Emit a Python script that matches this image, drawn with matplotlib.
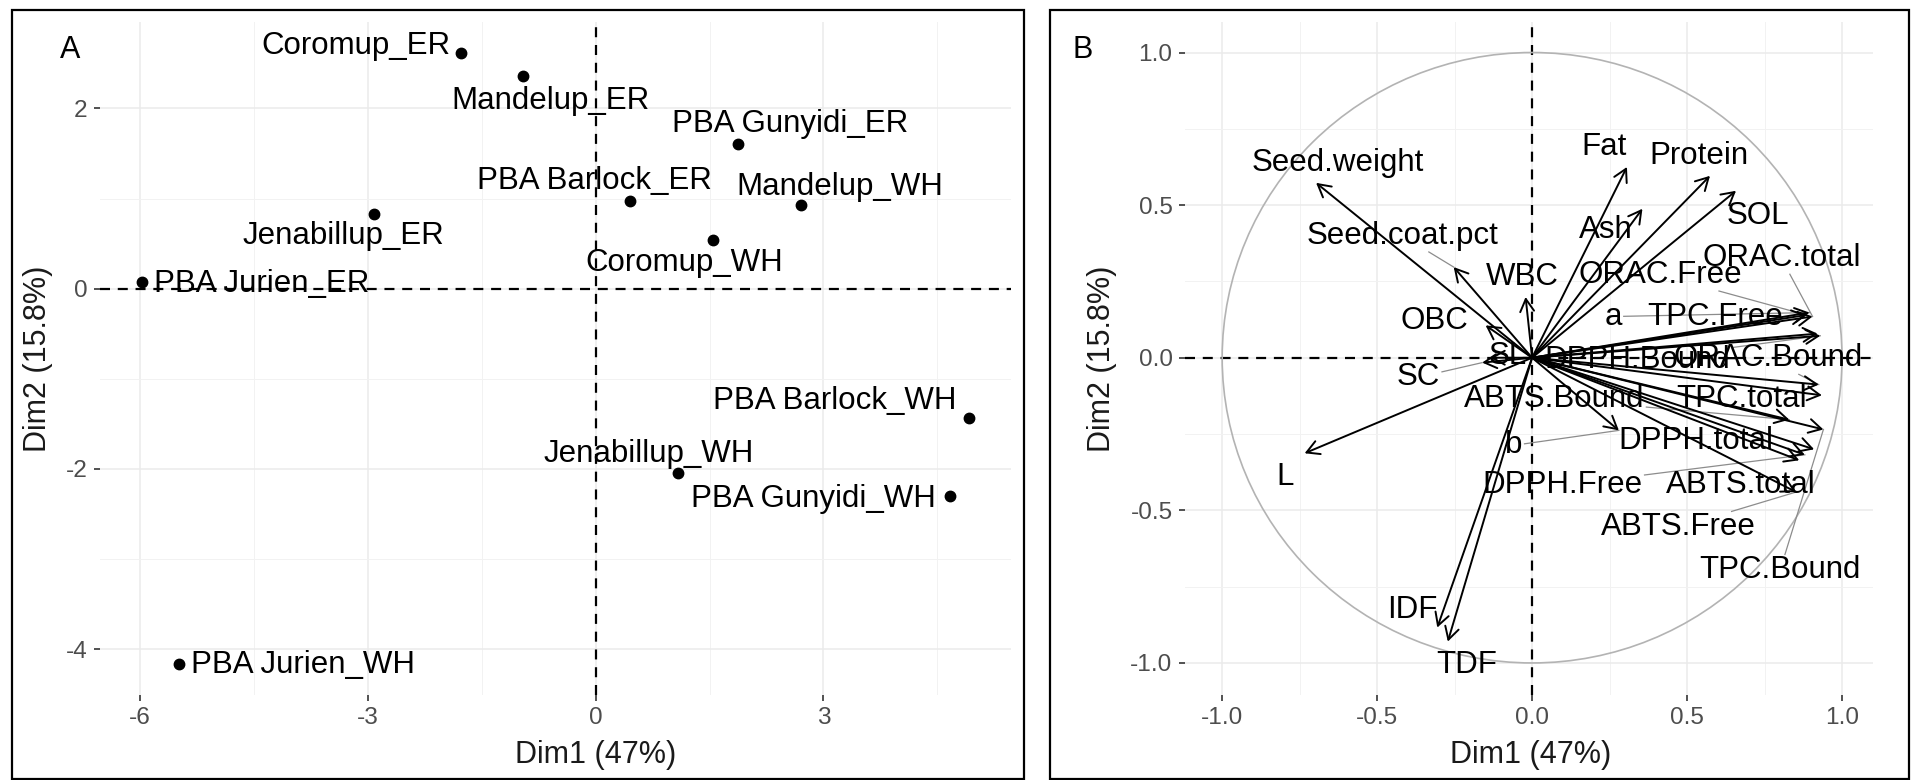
"""
PCA biplot pair: individuals map (A) and variable correlation circle (B).
"""
import numpy as np
import matplotlib
matplotlib.use('Agg')
import matplotlib.pyplot as plt
from matplotlib.patches import Rectangle, Circle, FancyArrowPatch
from matplotlib.ticker import MultipleLocator

plt.rcParams['font.family'] = ['Liberation Sans', 'DejaVu Sans']
plt.rcParams['axes.unicode_minus'] = False

# ---- data: individuals (panel A) ----
samples = ['Coromup_ER', 'Mandelup_ER', 'PBA Gunyidi_ER', 'PBA Barlock_ER',
           'Mandelup_WH', 'Jenabillup_ER', 'Coromup_WH', 'PBA Jurien_ER',
           'PBA Barlock_WH', 'Jenabillup_WH', 'PBA Gunyidi_WH', 'PBA Jurien_WH']
ind_dim1 = [-1.78, -0.96, 1.88, 0.45, 2.71, -2.92, 1.55, -5.98, 4.92, 1.08, 4.66, -5.49]
ind_dim2 = [2.62, 2.36, 1.61, 0.97, 0.93, 0.83, 0.54, 0.07, -1.43, -2.05, -2.30, -4.17]

# ---- data: variables (panel B) ----
variables = ['Seed.weight', 'Seed.coat.pct', 'WBC', 'OBC', 'SC', 'SL', 'L', 'IDF', 'TDF',
             'Fat', 'Protein', 'Ash', 'SOL', 'ORAC.Free', 'ORAC.total', 'a', 'TPC.Free',
             'DPPH.Bound', 'ORAC.Bound', 'TPC.total', 'ABTS.Bound', 'TPC.Bound',
             'DPPH.total', 'DPPH.Free', 'ABTS.total', 'ABTS.Free', 'b']
var_dim1 = [-0.697, -0.253, -0.021, -0.150, -0.161, -0.135, -0.734, -0.306, -0.272,
            0.306, 0.574, 0.356, 0.658, 0.885, 0.905, 0.895, 0.921,
            0.930, 0.925, 0.935, 0.830, 0.940,
            0.910, 0.880, 0.862, 0.852, 0.280]
var_dim2 = [0.573, 0.297, 0.199, 0.106, -0.016, 0.000, -0.313, -0.884, -0.930,
            0.625, 0.596, 0.488, 0.547, 0.140, 0.135, 0.148, 0.079,
            0.072, -0.088, -0.123, -0.203, -0.235,
            -0.300, -0.318, -0.336, -0.440, -0.238]

# ---- label placement (where the repelled labels ended up) ----
ind_label_pos = {
    'Coromup_ER': (-3.16, 2.69), 'Mandelup_ER': (-0.60, 2.08),
    'PBA Gunyidi_ER': (2.56, 1.83), 'PBA Barlock_ER': (-0.02, 1.19),
    'Mandelup_WH': (3.21, 1.13), 'Jenabillup_ER': (-3.32, 0.58),
    'Coromup_WH': (1.16, 0.28), 'PBA Jurien_ER': (-4.40, 0.05),
    'PBA Barlock_WH': (3.15, -1.25), 'Jenabillup_WH': (0.70, -1.83),
    'PBA Gunyidi_WH': (2.87, -2.33), 'PBA Jurien_WH': (-3.86, -4.18),
}
var_label_pos = {
    'Seed.weight': (-0.628, 0.638), 'Seed.coat.pct': (-0.418, 0.399),
    'WBC': (-0.031, 0.265), 'OBC': (-0.316, 0.120), 'SC': (-0.367, -0.064),
    'SL': (-0.08, 0.005), 'L': (-0.796, -0.39), 'IDF': (-0.388, -0.828),
    'TDF': (-0.210, -1.007), 'Fat': (0.231, 0.691), 'Protein': (0.537, 0.661),
    'Ash': (0.238, 0.419), 'SOL': (0.728, 0.466), 'ORAC.Free': (0.415, 0.271),
    'ORAC.total': (0.804, 0.326), 'a': (0.261, 0.135), 'TPC.Free': (0.592, 0.135),
    'DPPH.Bound': (0.34, -0.008), 'ORAC.Bound': (0.76, -0.002),
    'TPC.total': (0.675, -0.135), 'ABTS.Bound': (0.071, -0.135),
    'TPC.Bound': (0.80, -0.697), 'DPPH.total': (0.53, -0.273),
    'DPPH.Free': (0.098, -0.418), 'ABTS.total': (0.673, -0.418),
    'ABTS.Free': (0.472, -0.556), 'b': (-0.059, -0.287),
}
var_with_segment = ['Seed.coat.pct', 'SC', 'ORAC.Free', 'ORAC.total', 'a', 'b',
                    'ORAC.Bound', 'DPPH.Free', 'ABTS.Free', 'TPC.Bound', 'ABTS.Bound',
                    'DPPH.Bound']

W, H = 1913, 780
LABEL_SIZE = 22.5
TITLE_SIZE = 22
TICK_SIZE = 17.6


def px_rect(x0, y0, x1, y1):
    """pixel box (top-left origin) -> figure fraction rect"""
    return [x0 / W, 1 - y1 / H, (x1 - x0) / W, (y1 - y0) / H]


def style_axes(ax, major, minor):
    """minimal ggplot-like theme"""
    for s in ax.spines.values():
        s.set_visible(False)
    ax.xaxis.set_major_locator(MultipleLocator(major[0]))
    ax.yaxis.set_major_locator(MultipleLocator(major[1]))
    ax.xaxis.set_minor_locator(MultipleLocator(minor[0]))
    ax.yaxis.set_minor_locator(MultipleLocator(minor[1]))
    ax.grid(which='major', color='#EBEBEB', lw=1.1, zorder=0)
    ax.grid(which='minor', color='#F2F2F2', lw=0.7, zorder=0)
    ax.set_axisbelow(True)
    ax.tick_params(which='major', length=4, width=1.2, color='#333333',
                   labelcolor='#4D4D4D', labelsize=TICK_SIZE, pad=5)
    ax.tick_params(which='minor', length=0)
    ax.axhline(0, color='black', ls='--', lw=1.6, dashes=(4.5, 3.5), zorder=1)
    ax.axvline(0, color='black', ls='--', lw=1.6, dashes=(4.5, 3.5), zorder=1)
    ax.set_xlabel('Dim1 (47%)', fontsize=TITLE_SIZE, color='#1A1A1A')
    ax.set_ylabel('Dim2 (15.8%)', fontsize=TITLE_SIZE, color='#1A1A1A')


def edge_start(ax, txt, target, renderer):
    """point on the label box edge facing the target (data coords)"""
    bb = txt.get_window_extent(renderer)
    cx, cy = (bb.x0 + bb.x1) / 2, (bb.y0 + bb.y1) / 2
    tx, ty = ax.transData.transform(target)
    dx, dy = tx - cx, ty - cy
    hw, hh = bb.width / 2 + 2, bb.height / 2 + 1
    sc = min(hw / abs(dx) if dx else np.inf, hh / abs(dy) if dy else np.inf)
    return ax.transData.inverted().transform((cx + sc * dx, cy + sc * dy))


fig = plt.figure(figsize=(W / 100, H / 100), dpi=100, facecolor='white')

# panel frames and tags
for x0, x1 in [(12, 1024), (1050, 1909)]:
    r = px_rect(x0, 10, x1, 779)
    fig.add_artist(Rectangle((r[0], r[1]), r[2], r[3], transform=fig.transFigure,
                             fill=False, lw=1.6, edgecolor='black'))
fig.text(70 / W, 1 - 50 / H, 'A', fontsize=TITLE_SIZE, ha='center', va='center')
fig.text(1083 / W, 1 - 50 / H, 'B', fontsize=TITLE_SIZE, ha='center', va='center')

# ---- panel A ----
axA = fig.add_axes(px_rect(100, 22, 1011, 695))
style_axes(axA, (3, 2), (1.5, 1))
axA.set_xlim(-6.53, 5.47)
axA.set_ylim(-4.51, 2.96)
axA.plot(ind_dim1, ind_dim2, 'o', color='black', ms=7.5, zorder=3)
for name in samples:
    lx, ly = ind_label_pos[name]
    axA.text(lx, ly, name, fontsize=LABEL_SIZE, ha='center', va='center', zorder=4)
axA.xaxis.set_label_coords((596 - 100) / 911, -(755 - 695) / 673)
axA.xaxis.label.set_va('center')
axA.yaxis.set_label_coords((38 - 100) / 911, 0.5)
axA.yaxis.label.set_va('center')

# ---- panel B ----
axB = fig.add_axes(px_rect(1185, 22, 1873, 695))
style_axes(axB, (0.5, 0.5), (0.25, 0.25))
axB.set_xlim(-1.12, 1.10)
axB.set_ylim(-1.105, 1.10)
axB.add_patch(Circle((0, 0), 1, fill=False, color='#B3B3B3', lw=1.2, zorder=1))
for x, y in zip(var_dim1, var_dim2):
    axB.add_patch(FancyArrowPatch((0, 0), (x, y), arrowstyle='->,head_length=0.9,head_width=0.5',
                                  mutation_scale=10, lw=1.4, color='black',
                                  shrinkA=0, shrinkB=0, zorder=3))
texts = {}
for name in variables:
    lx, ly = var_label_pos[name]
    texts[name] = axB.text(lx, ly, name, fontsize=LABEL_SIZE, ha='center', va='center', zorder=4)
axB.xaxis.set_label_coords((1531 - 1185) / 688, -(755 - 695) / 673)
axB.xaxis.label.set_va('center')
axB.yaxis.set_label_coords((1102 - 1185) / 688, 0.5)
axB.yaxis.label.set_va('center')

# thin grey leader lines from labels to arrow tips
renderer = fig.canvas.get_renderer()
for name in var_with_segment:
    i = variables.index(name)
    tip = (var_dim1[i], var_dim2[i])
    sx, sy = edge_start(axB, texts[name], tip, renderer)
    axB.plot([sx, tip[0]], [sy, tip[1]], color='#8C8C8C', lw=0.9, zorder=2)

fig.savefig('out.png', dpi=100, facecolor='white')
plt.close(fig)
